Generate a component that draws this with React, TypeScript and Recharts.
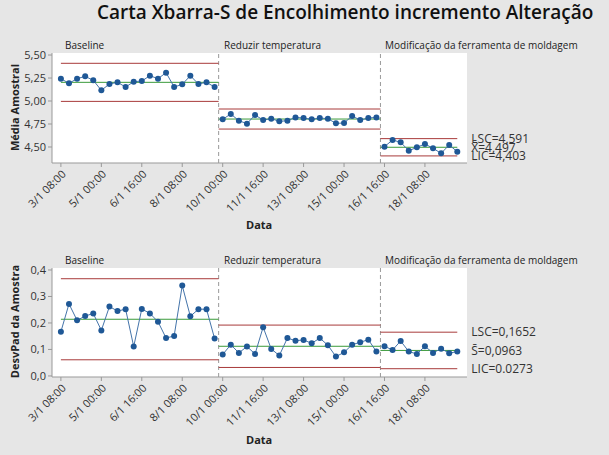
import React from 'react';
import {
  ComposedChart, Line, XAxis, YAxis, ReferenceLine, CartesianGrid,
} from 'recharts';

// Minitab-style Xbar-S chart with three stages
const phaseNames = ['Baseline', 'Reduzir temperatura', 'Modificação da ferramenta de moldagem'];

const dateLabels = [
  '3/1 08:00', '5/1 00:00', '6/1 16:00', '8/1 08:00', '10/1 00:00',
  '11/1 16:00', '13/1 08:00', '15/1 00:00', '16/1 16:00', '18/1 08:00',
];

const meanBaseline = [5.243, 5.192, 5.243, 5.268, 5.225, 5.116, 5.185, 5.203, 5.152, 5.21, 5.217, 5.275, 5.243, 5.308, 5.152, 5.181, 5.275, 5.185, 5.203, 5.152];
const meanReduzir = [4.801, 4.859, 4.786, 4.754, 4.848, 4.793, 4.808, 4.779, 4.786, 4.822, 4.815, 4.801, 4.815, 4.808, 4.757, 4.761, 4.837, 4.793, 4.815, 4.822];
const meanModif = [4.504, 4.576, 4.551, 4.46, 4.496, 4.533, 4.486, 4.431, 4.522, 4.449];

const sdBaseline = [0.167, 0.272, 0.21, 0.226, 0.236, 0.172, 0.262, 0.245, 0.252, 0.111, 0.253, 0.236, 0.205, 0.143, 0.151, 0.341, 0.225, 0.252, 0.252, 0.141];
const sdReduzir = [0.081, 0.118, 0.087, 0.111, 0.083, 0.184, 0.102, 0.077, 0.143, 0.133, 0.136, 0.123, 0.143, 0.116, 0.073, 0.089, 0.118, 0.127, 0.137, 0.092];
const sdModif = [0.112, 0.098, 0.132, 0.092, 0.083, 0.112, 0.087, 0.103, 0.086, 0.092];

const xbarLimits = [
  { lcl: 4.996, cl: 5.203, ucl: 5.41 },
  { lcl: 4.695, cl: 4.804, ucl: 4.913 },
  { lcl: 4.403, cl: 4.497, ucl: 4.591 },
];
const sLimits = [
  { lcl: 0.061, cl: 0.214, ucl: 0.367 },
  { lcl: 0.032, cl: 0.112, ucl: 0.192 },
  { lcl: 0.0273, cl: 0.0963, ucl: 0.1652 },
];

const xbarTicks = [4.5, 4.75, 5.0, 5.25, 5.5];
const sTicks = [0, 0.1, 0.2, 0.3, 0.4];
const xbarLabels = ['LSC=4,591', 'X\u0304=4,497', 'LIC=4,403'];
const sLabels = ['LSC=0,1652', 'S\u0304=0,0963', 'LIC=0.0273'];

const FONT = '"Open Sans", "Noto Sans", sans-serif';
const BG = '#e6e6e6';
const BLUE = '#1f5896';
const GREEN = '#3a9a3a';
const RED = '#a83a3a';
const TEXT = '#333';

function DateTick(props: any) {
  const { x, y, payload } = props;
  const ax = x + 3;
  const ay = y + 3;
  return (
    <text x={ax} y={ay} dy="0.35em" textAnchor="end" fontSize={11} fill={TEXT}
      fontFamily={FONT} transform={`rotate(-45 ${ax} ${ay})`}>
      {dateLabels[Math.round(payload.value / 5)]}
    </text>
  );
}

function ControlChart({ phases, limits, domain, yTicks, decimals, sideLabels, height, xAxisHeight }: any) {
  const rows: any[] = [];
  const bounds: { start: number; end: number }[] = [];
  let n = 0;
  phases.forEach((vals: number[], k: number) => {
    bounds.push({ start: n, end: n + vals.length - 1 });
    vals.forEach((v) => {
      rows.push({ i: n, ['p' + k]: v });
      n++;
    });
  });
  const last = n - 1;
  const fmt = (v: number) => v.toFixed(decimals).replace('.', ',');

  return (
    <ComposedChart width={609} height={height} data={rows}
      margin={{ top: 53, right: 142, bottom: 0, left: 0 }}>
      <CartesianGrid horizontal={false} vertical={false} fill="#fff" />
      <XAxis dataKey="i" type="number" domain={[-1.1, 50.2]} allowDataOverflow
        ticks={dateLabels.map((_, k) => k * 5)} interval={0}
        height={xAxisHeight} tickSize={4} tick={<DateTick />}
        axisLine={{ stroke: '#999' }} tickLine={{ stroke: '#999' }} />
      <XAxis xAxisId="top" orientation="top" type="number" domain={[-1.1, 50.2]}
        height={0} tick={false} tickLine={false} axisLine={{ stroke: '#999' }} />
      <YAxis type="number" domain={domain} allowDataOverflow ticks={yTicks} width={52}
        tickFormatter={fmt} tickSize={4} interval={0}
        tick={{ fontSize: 11, fill: TEXT, fontFamily: FONT }}
        axisLine={{ stroke: '#999' }} tickLine={{ stroke: '#999' }} />
      <YAxis yAxisId="right" orientation="right" width={0} tick={false} tickLine={false}
        axisLine={{ stroke: '#999' }} />
      {bounds.slice(1).map((b, k) => (
        <ReferenceLine key={'d' + k} x={b.start - 0.5} stroke="#999" strokeDasharray="4 3" />
      ))}
      {bounds.map((b, k) => {
        const x1 = k === 0 ? b.start : b.start - 0.5;
        const x2 = b.end === last ? b.end : b.end + 0.5;
        const isLast = k === bounds.length - 1;
        const lab = (t: string) => isLast
          ? { value: t, position: 'right' as const, offset: 14, fontSize: 12, fill: TEXT, fontFamily: FONT }
          : undefined;
        return [
          <ReferenceLine key={'u' + k} segment={[{ x: x1, y: limits[k].ucl }, { x: x2, y: limits[k].ucl }]}
            stroke={RED} label={lab(sideLabels[0])} />,
          <ReferenceLine key={'c' + k} segment={[{ x: x1, y: limits[k].cl }, { x: x2, y: limits[k].cl }]}
            stroke={GREEN} label={lab(sideLabels[1])} />,
          <ReferenceLine key={'l' + k} segment={[{ x: x1, y: limits[k].lcl }, { x: x2, y: limits[k].lcl }]}
            stroke={RED} label={lab(sideLabels[2])} />,
        ];
      })}
      {phases.map((_: number[], k: number) => (
        <Line key={'s' + k} dataKey={'p' + k} stroke="#4474aa" strokeWidth={1}
          dot={{ r: 3, fill: BLUE, stroke: BLUE, strokeWidth: 0 }} isAnimationActive={false} />
      ))}
    </ComposedChart>
  );
}

const abs = (left: number, top: number, extra: any = {}) => ({
  position: 'absolute' as const, left, top, whiteSpace: 'nowrap' as const,
  fontFamily: FONT, color: TEXT, lineHeight: 1, ...extra,
});

function PhaseLabels({ top }: { top: number }) {
  const lefts = [65, 224, 385];
  return (
    <>
      {phaseNames.map((p, k) => (
        <div key={p} style={abs(lefts[k], top, { fontSize: 10, color: '#222' })}>{p}</div>
      ))}
    </>
  );
}

function YTitle({ text, cx, cy }: { text: string; cx: number; cy: number }) {
  return (
    <div style={abs(cx - 100, cy - 6, {
      width: 200, textAlign: 'center', fontSize: 11, fontWeight: 700, color: '#222',
      transform: 'rotate(-90deg)',
    })}>{text}</div>
  );
}

export default function App() {
  return (
    <div style={{ position: 'absolute', left: 0, top: 0, width: 609, height: 455, background: BG, overflow: 'hidden' }}>
      <div style={abs(97, 3, { fontSize: 19, fontWeight: 600, color: '#111' })}>
        Carta Xbarra-S de Encolhimento incremento Alteração
      </div>
      <div style={{ position: 'absolute', left: 0, top: 0 }}>
        <ControlChart phases={[meanBaseline, meanReduzir, meanModif]} limits={xbarLimits}
          domain={[4.326, 5.522]} yTicks={xbarTicks} decimals={2} sideLabels={xbarLabels}
          height={232} xAxisHeight={69} />
      </div>
      <div style={{ position: 'absolute', left: 0, top: 215 }}>
        <ControlChart phases={[sdBaseline, sdReduzir, sdModif]} limits={sLimits}
          domain={[-0.004, 0.4075]} yTicks={sTicks} decimals={1} sideLabels={sLabels}
          height={240} xAxisHeight={78} />
      </div>
      <PhaseLabels top={40} />
      <PhaseLabels top={255} />
      <YTitle text="Média Amostral" cx={14} cy={108} />
      <YTitle text="DesvPad da Amostra" cx={14} cy={322} />
      <div style={abs(246, 219, { fontSize: 11, fontWeight: 700, color: '#222' })}>Data</div>
      <div style={abs(246, 434, { fontSize: 11, fontWeight: 700, color: '#222' })}>Data</div>
    </div>
  );
}
